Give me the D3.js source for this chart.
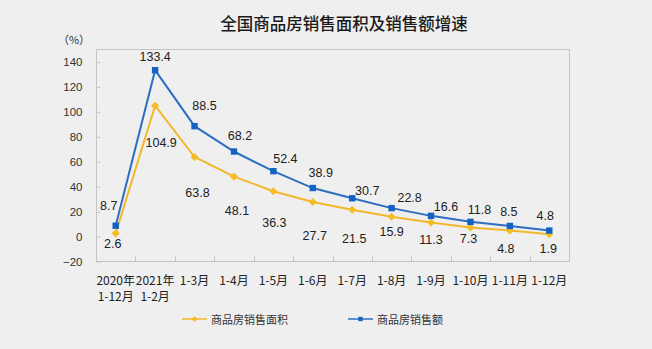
<!DOCTYPE html>
<html>
<head>
<meta charset="utf-8">
<script src="https://cdn.jsdelivr.net/npm/d3@7/dist/d3.min.js"></script>
<style>
  html, body { margin: 0; padding: 0; background: #efefef; }
  svg { display: block; }
</style>
</head>
<body>
<svg id="chart" width="652" height="349"></svg>
<script>
const categories = ["2020年\n1-12月", "2021年\n1-2月", "1-3月", "1-4月", "1-5月", "1-6月", "1-7月", "1-8月", "1-9月", "1-10月", "1-11月", "1-12月"];
const areaGrowth = [2.6, 104.9, 63.8, 48.1, 36.3, 27.7, 21.5, 15.9, 11.3, 7.3, 4.8, 1.9];
const salesGrowth = [8.7, 133.4, 88.5, 68.2, 52.4, 38.9, 30.7, 22.8, 16.6, 11.8, 8.5, 4.8];
const yTicks = [-20, 0, 20, 40, 60, 80, 100, 120, 140];
const seriesNames = ["商品房销售面积", "商品房销售额"];
const titleText = "全国商品房销售面积及销售额增速";
const unitText = "（%）";

// label placement offsets (dx, dy) relative to each point, in px
const salesLabelOffsets = [[-7,-20],[0,-13],[10,-20],[6,-16],[12,-12],[8,-15],[15,-7],[18,-10],[15,-9],[9,-12],[-1,-14],[-4,-15]];
const areaLabelOffsets = [[-3,11],[6,37],[3,36],[3,34],[1,32],[2,34],[2,29],[0,15],[0,18],[-2,12],[-4,18],[-1,15]];

const svg = d3.select("#chart");
const pLeft = 96, pRight = 569, pTop = 49.5, pBottom = 261.5;
const blue = "#2e6ec0", blueMark = "#1462c2";
const yellow = "#f3b72c", yellowMark = "#f5bd24";

const x = d3.scaleBand().domain(categories).range([pLeft, pRight]);
const y = d3.scaleLinear().domain([-20, 150]).range([pBottom, pTop]);
const cx = d => x(d) + x.bandwidth() / 2;

// title
svg.append("text").attr("x", 344).attr("y", 23).attr("text-anchor", "middle")
  .attr("dominant-baseline", "central")
  .style("font-family", "'Noto Sans CJK SC', sans-serif").style("font-size", "16.5px")
  .style("font-weight", 500).attr("fill", "#1a1a1a").text(titleText);

svg.append("text").attr("x", 74).attr("y", 38.5).attr("text-anchor", "middle")
  .attr("dominant-baseline", "central")
  .style("font-family", "'Noto Sans CJK SC', sans-serif").style("font-size", "11px")
  .attr("fill", "#333").text(unitText);

// plot box
svg.append("rect").attr("x", pLeft + 0.5).attr("y", pTop).attr("width", pRight - pLeft).attr("height", pBottom - pTop)
  .attr("fill", "none").attr("stroke", "#c4c4c4").attr("stroke-width", 1);

// y axis
const yAxis = d3.axisLeft(y).tickValues(yTicks).tickSize(-4).tickPadding(14);
const gy = svg.append("g").attr("transform", `translate(${pLeft + 0.5},0)`).call(yAxis);
gy.select(".domain").remove();
gy.selectAll(".tick line").attr("stroke", "#c4c4c4");
gy.selectAll(".tick text").style("font-family", "'Liberation Sans', Arial, sans-serif")
  .style("font-size", "11.5px").attr("fill", "#333");

// x axis ticks (inside, at band boundaries)
const bounds = categories.slice(1).map(c => x(c));
svg.append("g").selectAll("line").data(bounds).join("line")
  .attr("x1", d => Math.round(d) + 0.5).attr("x2", d => Math.round(d) + 0.5)
  .attr("y1", pBottom).attr("y2", pBottom - 5).attr("stroke", "#c4c4c4");

// x labels
const xl = svg.append("g").selectAll("text").data(categories).join("text")
  .attr("x", d => cx(d)).attr("text-anchor", "middle")
  .style("font-family", "'Noto Sans CJK SC', sans-serif").style("font-size", "12px").attr("fill", "#222");
xl.each(function(d) {
  const lines = d.split("\n");
  d3.select(this).selectAll("tspan").data(lines).join("tspan")
    .attr("x", cx(d)).attr("y", (l, i) => 285 + i * 16).text(l => l);
});

const line = d3.line().x((d, i) => cx(categories[i])).y(d => y(d));

// area series (yellow)
svg.append("path").datum(areaGrowth).attr("d", line).attr("fill", "none")
  .attr("stroke", yellow).attr("stroke-width", 2);
svg.append("g").selectAll("path").data(areaGrowth).join("path")
  .attr("d", d3.symbol().type(d3.symbolDiamond2).size(42))
  .attr("transform", (d, i) => `translate(${cx(categories[i])},${y(d)})`)
  .attr("fill", yellowMark);

// sales series (blue)
svg.append("path").datum(salesGrowth).attr("d", line).attr("fill", "none")
  .attr("stroke", blue).attr("stroke-width", 2);
svg.append("g").selectAll("rect").data(salesGrowth).join("rect")
  .attr("x", (d, i) => cx(categories[i]) - 3.2).attr("y", d => y(d) - 3.2)
  .attr("width", 6.4).attr("height", 6.4).attr("fill", blueMark);

// data labels
const labelStyle = sel => sel.attr("text-anchor", "middle").attr("dominant-baseline", "central")
  .style("font-family", "'Liberation Sans', Arial, sans-serif").style("font-size", "12.5px").attr("fill", "#222");
svg.append("g").selectAll("text").data(salesGrowth).join("text")
  .attr("x", (d, i) => cx(categories[i]) + salesLabelOffsets[i][0])
  .attr("y", (d, i) => y(d) + salesLabelOffsets[i][1])
  .call(labelStyle).text(d => d.toFixed(1));
svg.append("g").selectAll("text").data(areaGrowth).join("text")
  .attr("x", (d, i) => cx(categories[i]) + areaLabelOffsets[i][0])
  .attr("y", (d, i) => y(d) + areaLabelOffsets[i][1])
  .call(labelStyle).text(d => d.toFixed(1));

// legend
const legend = [
  { name: seriesNames[0], color: yellow, mark: yellowMark, x0: 182, type: "diamond" },
  { name: seriesNames[1], color: blue, mark: blueMark, x0: 348, type: "square" }
];
const lg = svg.append("g").selectAll("g").data(legend).join("g")
  .attr("transform", d => `translate(${d.x0},319)`);
lg.append("line").attr("x1", 0).attr("x2", 25).attr("y1", 0).attr("y2", 0)
  .attr("stroke", d => d.color).attr("stroke-width", 1.5);
lg.append("path").attr("d", d => d3.symbol().type(d.type === "diamond" ? d3.symbolDiamond2 : d3.symbolSquare2).size(d.type === "diamond" ? 22 : 24)())
  .attr("transform", "translate(12.5,0)").attr("fill", d => d.mark);
lg.append("text").attr("x", 29).attr("y", 0).attr("dominant-baseline", "central")
  .style("font-family", "'Noto Sans CJK SC', sans-serif").style("font-size", "11px")
  .attr("fill", "#333").text(d => d.name);
</script>
</body>
</html>
